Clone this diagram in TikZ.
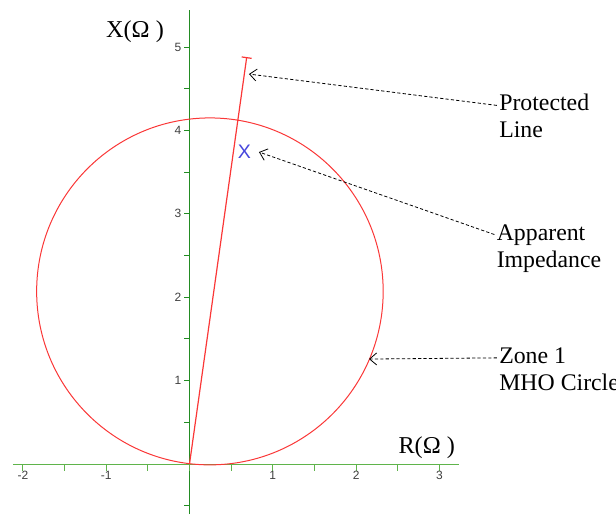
\documentclass[tikz,border=0pt]{standalone}
\usepackage{fontspec}
\setmainfont{Liberation Serif}
\newfontfamily\ticksf{Liberation Sans}
\usetikzlibrary{arrows.meta,positioning}
\definecolor{mhored}{RGB}{250,55,55}
\definecolor{axgreen}{RGB}{35,140,35}
\definecolor{axlight}{RGB}{95,180,75}
\definecolor{zblue}{RGB}{70,70,220}

\begin{document}
\begin{tikzpicture}[x=41.65pt, y=41.7pt, >={Straight Barb[length=3.5pt,width=6pt]},
  lbl/.style={inner sep=1pt, anchor=west, text height=8pt, text depth=2.5pt, font=\fontsize{11.9}{13}\selectfont},
  ticklbl/.style={font=\ticksf\fontsize{6}{7}\selectfont, text=black!75, inner sep=1pt},
  ptr/.style={->, dash pattern=on 1.6pt off 1.1pt, line width=0.4pt}]
  \useasboundingbox (-2.275,-0.5995) rectangle (5.120,5.564);
  % axes and ticks
  \draw[axlight, line width=0.5pt] (-2.12,0) -- (3.24,0);
  \draw[axgreen, line width=0.75pt] (0,-0.6) -- (0,5.44);
  \foreach \t in {-2,-1.5,...,3} \draw[axlight, line width=0.5pt] (\t,0) -- ++(0,-3.5pt);
  \foreach \t in {-0.5,0.5,1,...,5} \draw[axgreen, line width=0.5pt] (0,\t) -- ++(-3pt,0);
  \foreach \t in {-2,-1,1,2,3} \node[ticklbl] (xt\t) at (\t,-0.13) {\t};
  \foreach \t in {1,...,5} \node[ticklbl, anchor=east] (yt\t) at (-0.07,\t) {\t};
  \node[font=\fontsize{12.1}{13}\selectfont] (xax) at (-0.654,5.186) {X(Ω )};
  \node[font=\fontsize{12.1}{13}\selectfont] (rax) at (2.848,0.198) {R(Ω )};
  % mho circle and protected line
  \draw[mhored, line width=0.5pt] (0.245,2.07) circle (2.08);
  \coordinate (o) at (0,0);
  \coordinate (lineEnd) at (0.687,4.88);
  \draw[mhored, line width=0.6pt, -{Bar[width=5pt]}] (o) -- (lineEnd);
  \node[text=zblue, font=\ticksf\fontsize{9.8}{10}\selectfont, inner sep=0pt] (zapp) at (0.658,3.74) {X};
  % labels
  \node[lbl] (prot) at (3.69,4.30) {Protected};
  \node[lbl, below=0.6pt of prot.south west, anchor=north west] (prot2) {Line};
  \node[lbl] (app) at (3.66,2.752) {Apparent};
  \node[lbl, below=0.6pt of app.south west, anchor=north west] (app2) {Impedance};
  \node[lbl] (zone) at (3.69,1.273) {Zone 1};
  \node[lbl, below=0.6pt of zone.south west, anchor=north west] (zone2) {MHO Circle};
  \coordinate (protTip) at (0.714,4.676);
  \coordinate (appTip) at (0.834,3.741);
  \coordinate (zoneTip) at (2.155,1.259);
  \draw[ptr] (prot.west) -- (protTip);
  \draw[ptr] (app.west) -- (appTip);
  \draw[ptr] (zone.west) -- (zoneTip);
\end{tikzpicture}
\end{document}
